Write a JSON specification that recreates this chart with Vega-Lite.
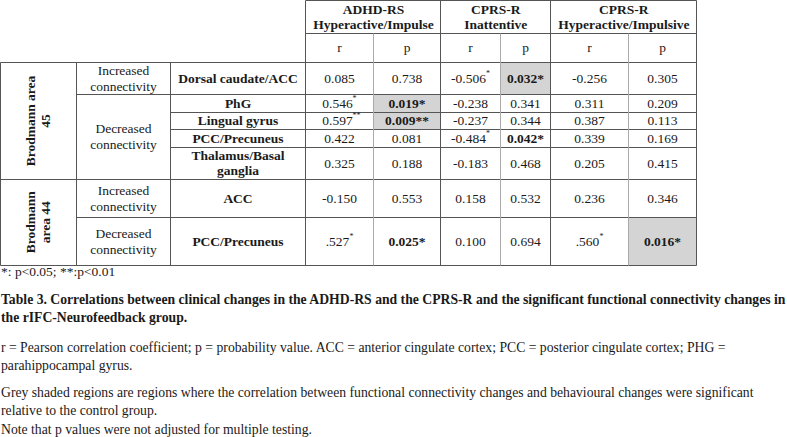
{
  "$schema": "https://vega.github.io/schema/vega-lite/v6.json",
  "width": 787,
  "height": 437,
  "autosize": "none",
  "padding": 0,
  "background": "white",
  "config": {
    "view": {"stroke": null},
    "text": {"font": "Liberation Serif", "fontSize": 13.5, "color": "#1a1a1a", "baseline": "middle", "align": "center", "lineBreak": "\n", "lineHeight": 16}
  },
  "datasets": {
    "grid": [
      {"x0": 3, "x1": 9, "y0": 0, "y1": 0, "inner": false},
      {"x0": 3, "x1": 9, "y0": 1, "y1": 1, "inner": false},
      {"x0": 0, "x1": 9, "y0": 2, "y1": 2, "inner": false},
      {"x0": 1, "x1": 9, "y0": 3, "y1": 3, "inner": false},
      {"x0": 2, "x1": 9, "y0": 4, "y1": 4, "inner": false},
      {"x0": 2, "x1": 9, "y0": 5, "y1": 5, "inner": false},
      {"x0": 2, "x1": 9, "y0": 6, "y1": 6, "inner": false},
      {"x0": 0, "x1": 9, "y0": 7, "y1": 7, "inner": false},
      {"x0": 1, "x1": 9, "y0": 8, "y1": 8, "inner": false},
      {"x0": 0, "x1": 9, "y0": 9, "y1": 9, "inner": false},
      {"x0": 0, "x1": 0, "y0": 2, "y1": 9, "inner": false},
      {"x0": 1, "x1": 1, "y0": 2, "y1": 9, "inner": false},
      {"x0": 2, "x1": 2, "y0": 2, "y1": 9, "inner": false},
      {"x0": 3, "x1": 3, "y0": 0, "y1": 9, "inner": false},
      {"x0": 4, "x1": 4, "y0": 1, "y1": 9, "inner": true},
      {"x0": 5, "x1": 5, "y0": 0, "y1": 9, "inner": false},
      {"x0": 6, "x1": 6, "y0": 1, "y1": 9, "inner": true},
      {"x0": 7, "x1": 7, "y0": 0, "y1": 9, "inner": false},
      {"x0": 8, "x1": 8, "y0": 1, "y1": 9, "inner": true},
      {"x0": 9, "x1": 9, "y0": 0, "y1": 9, "inner": false}
    ],
    "labels": [
      {"t": "ADHD-RS\nHyperactive/Impulse", "kind": "head", "xc": 4, "yc": 0.5},
      {"t": "CPRS-R\nInattentive", "kind": "head", "xc": 5.92, "yc": 0.5},
      {"t": "CPRS-R\nHyperactive/Impulsive", "kind": "head", "xc": 7.94, "yc": 0.5},
      {"t": "r", "kind": "sub", "xc": 3.5, "yc": 1.5},
      {"t": "p", "kind": "sub", "xc": 4.5, "yc": 1.5},
      {"t": "r", "kind": "sub", "xc": 5.5, "yc": 1.5},
      {"t": "p", "kind": "sub", "xc": 6.5, "yc": 1.5},
      {"t": "r", "kind": "sub", "xc": 7.5, "yc": 1.5},
      {"t": "p", "kind": "sub", "xc": 8.5, "yc": 1.5},
      {"t": "Brodmann area\n45", "kind": "rot", "xc": 0.5, "yc": 4.5},
      {"t": "Brodmann\narea 44", "kind": "rot", "xc": 0.5, "yc": 8.1},
      {"t": "Increased\nconnectivity", "kind": "conn", "xc": 1.5, "yc": 2.5},
      {"t": "Decreased\nconnectivity", "kind": "conn", "xc": 1.5, "yc": 5.42},
      {"t": "Increased\nconnectivity", "kind": "conn", "xc": 1.5, "yc": 7.5},
      {"t": "Decreased\nconnectivity", "kind": "conn", "xc": 1.5, "yc": 8.5},
      {"t": "Dorsal caudate/ACC", "kind": "region", "xc": 2.5, "yc": 2.5},
      {"t": "PhG", "kind": "region", "xc": 2.5, "yc": 3.5},
      {"t": "Lingual gyrus", "kind": "region", "xc": 2.5, "yc": 4.5},
      {"t": "PCC/Precuneus", "kind": "region", "xc": 2.5, "yc": 5.5},
      {"t": "Thalamus/Basal\nganglia", "kind": "region2", "xc": 2.5, "yc": 6.5},
      {"t": "ACC", "kind": "region", "xc": 2.5, "yc": 7.5},
      {"t": "PCC/Precuneus", "kind": "region", "xc": 2.5, "yc": 8.5}
    ],
    "cells": [
      {"v": "0.085", "sup": "", "x0": 3, "x1": 4, "y0": 2, "y1": 3, "xc": 3.5, "yc": 2.5, "shaded": false},
      {"v": "0.738", "sup": "", "x0": 4, "x1": 5, "y0": 2, "y1": 3, "xc": 4.5, "yc": 2.5, "shaded": false},
      {"v": "-0.506", "sup": "*", "x0": 5, "x1": 6, "y0": 2, "y1": 3, "xc": 5.5, "yc": 2.5, "shaded": false},
      {"v": "0.032*", "sup": "", "x0": 6, "x1": 7, "y0": 2, "y1": 3, "xc": 6.5, "yc": 2.5, "shaded": true},
      {"v": "-0.256", "sup": "", "x0": 7, "x1": 8, "y0": 2, "y1": 3, "xc": 7.5, "yc": 2.5, "shaded": false},
      {"v": "0.305", "sup": "", "x0": 8, "x1": 9, "y0": 2, "y1": 3, "xc": 8.5, "yc": 2.5, "shaded": false},
      {"v": "0.546", "sup": "*", "x0": 3, "x1": 4, "y0": 3, "y1": 4, "xc": 3.5, "yc": 3.5, "shaded": false},
      {"v": "0.019*", "sup": "", "x0": 4, "x1": 5, "y0": 3, "y1": 4, "xc": 4.5, "yc": 3.5, "shaded": true},
      {"v": "-0.238", "sup": "", "x0": 5, "x1": 6, "y0": 3, "y1": 4, "xc": 5.5, "yc": 3.5, "shaded": false},
      {"v": "0.341", "sup": "", "x0": 6, "x1": 7, "y0": 3, "y1": 4, "xc": 6.5, "yc": 3.5, "shaded": false},
      {"v": "0.311", "sup": "", "x0": 7, "x1": 8, "y0": 3, "y1": 4, "xc": 7.5, "yc": 3.5, "shaded": false},
      {"v": "0.209", "sup": "", "x0": 8, "x1": 9, "y0": 3, "y1": 4, "xc": 8.5, "yc": 3.5, "shaded": false},
      {"v": "0.597", "sup": "**", "x0": 3, "x1": 4, "y0": 4, "y1": 5, "xc": 3.5, "yc": 4.5, "shaded": false},
      {"v": "0.009**", "sup": "", "x0": 4, "x1": 5, "y0": 4, "y1": 5, "xc": 4.5, "yc": 4.5, "shaded": true},
      {"v": "-0.237", "sup": "", "x0": 5, "x1": 6, "y0": 4, "y1": 5, "xc": 5.5, "yc": 4.5, "shaded": false},
      {"v": "0.344", "sup": "", "x0": 6, "x1": 7, "y0": 4, "y1": 5, "xc": 6.5, "yc": 4.5, "shaded": false},
      {"v": "0.387", "sup": "", "x0": 7, "x1": 8, "y0": 4, "y1": 5, "xc": 7.5, "yc": 4.5, "shaded": false},
      {"v": "0.113", "sup": "", "x0": 8, "x1": 9, "y0": 4, "y1": 5, "xc": 8.5, "yc": 4.5, "shaded": false},
      {"v": "0.422", "sup": "", "x0": 3, "x1": 4, "y0": 5, "y1": 6, "xc": 3.5, "yc": 5.5, "shaded": false},
      {"v": "0.081", "sup": "", "x0": 4, "x1": 5, "y0": 5, "y1": 6, "xc": 4.5, "yc": 5.5, "shaded": false},
      {"v": "-0.484", "sup": "*", "x0": 5, "x1": 6, "y0": 5, "y1": 6, "xc": 5.5, "yc": 5.5, "shaded": false},
      {"v": "0.042*", "sup": "", "x0": 6, "x1": 7, "y0": 5, "y1": 6, "xc": 6.5, "yc": 5.5, "shaded": false},
      {"v": "0.339", "sup": "", "x0": 7, "x1": 8, "y0": 5, "y1": 6, "xc": 7.5, "yc": 5.5, "shaded": false},
      {"v": "0.169", "sup": "", "x0": 8, "x1": 9, "y0": 5, "y1": 6, "xc": 8.5, "yc": 5.5, "shaded": false},
      {"v": "0.325", "sup": "", "x0": 3, "x1": 4, "y0": 6, "y1": 7, "xc": 3.5, "yc": 6.5, "shaded": false},
      {"v": "0.188", "sup": "", "x0": 4, "x1": 5, "y0": 6, "y1": 7, "xc": 4.5, "yc": 6.5, "shaded": false},
      {"v": "-0.183", "sup": "", "x0": 5, "x1": 6, "y0": 6, "y1": 7, "xc": 5.5, "yc": 6.5, "shaded": false},
      {"v": "0.468", "sup": "", "x0": 6, "x1": 7, "y0": 6, "y1": 7, "xc": 6.5, "yc": 6.5, "shaded": false},
      {"v": "0.205", "sup": "", "x0": 7, "x1": 8, "y0": 6, "y1": 7, "xc": 7.5, "yc": 6.5, "shaded": false},
      {"v": "0.415", "sup": "", "x0": 8, "x1": 9, "y0": 6, "y1": 7, "xc": 8.5, "yc": 6.5, "shaded": false},
      {"v": "-0.150", "sup": "", "x0": 3, "x1": 4, "y0": 7, "y1": 8, "xc": 3.5, "yc": 7.5, "shaded": false},
      {"v": "0.553", "sup": "", "x0": 4, "x1": 5, "y0": 7, "y1": 8, "xc": 4.5, "yc": 7.5, "shaded": false},
      {"v": "0.158", "sup": "", "x0": 5, "x1": 6, "y0": 7, "y1": 8, "xc": 5.5, "yc": 7.5, "shaded": false},
      {"v": "0.532", "sup": "", "x0": 6, "x1": 7, "y0": 7, "y1": 8, "xc": 6.5, "yc": 7.5, "shaded": false},
      {"v": "0.236", "sup": "", "x0": 7, "x1": 8, "y0": 7, "y1": 8, "xc": 7.5, "yc": 7.5, "shaded": false},
      {"v": "0.346", "sup": "", "x0": 8, "x1": 9, "y0": 7, "y1": 8, "xc": 8.5, "yc": 7.5, "shaded": false},
      {"v": ".527", "sup": "*", "x0": 3, "x1": 4, "y0": 8, "y1": 9, "xc": 3.5, "yc": 8.5, "shaded": false},
      {"v": "0.025*", "sup": "", "x0": 4, "x1": 5, "y0": 8, "y1": 9, "xc": 4.5, "yc": 8.5, "shaded": false},
      {"v": "0.100", "sup": "", "x0": 5, "x1": 6, "y0": 8, "y1": 9, "xc": 5.5, "yc": 8.5, "shaded": false},
      {"v": "0.694", "sup": "", "x0": 6, "x1": 7, "y0": 8, "y1": 9, "xc": 6.5, "yc": 8.5, "shaded": false},
      {"v": ".560", "sup": "*", "x0": 7, "x1": 8, "y0": 8, "y1": 9, "xc": 7.5, "yc": 8.5, "shaded": false},
      {"v": "0.016*", "sup": "", "x0": 8, "x1": 9, "y0": 8, "y1": 9, "xc": 8.5, "yc": 8.5, "shaded": true}
    ],
    "notes": [
      {"t": "*: p<0.05; **:p<0.01", "kind": "foot", "line": 10},
      {"t": "Table 3. Correlations between clinical changes in the ADHD-RS and the CPRS-R and the significant functional connectivity changes in", "kind": "cap", "line": 11},
      {"t": "the rIFC-Neurofeedback group.", "kind": "cap", "line": 12},
      {"t": "r = Pearson correlation coefficient; p = probability value. ACC = anterior cingulate cortex; PCC = posterior cingulate cortex; PHG =", "kind": "para", "line": 13},
      {"t": "parahippocampal gyrus.", "kind": "para", "line": 14},
      {"t": "Grey shaded regions are regions where the correlation between functional connectivity changes and behavioural changes were significant", "kind": "para", "line": 15},
      {"t": "relative to the control group.", "kind": "para", "line": 16},
      {"t": "Note that p values were not adjusted for multiple testing.", "kind": "para", "line": 17}
    ]
  },
  "layer": [
    {
      "data": {"name": "cells"},
      "transform": [{"filter": "datum.shaded"}],
      "mark": {"type": "rect", "color": "#d4d4d4"},
      "encoding": {
        "x": {"field": "x0", "type": "quantitative", "axis": null, "scale": {"domain": [0,1,2,3,4,5,6,7,8,9,10], "range": [0.5,76.5,170.5,305.5,373.5,440.5,500.5,550.5,628.5,696.5,787], "nice": false, "zero": false}},
        "x2": {"field": "x1"},
        "y": {"field": "y0", "type": "quantitative", "axis": null, "scale": {"domain": [0,1,2,3,4,5,6,7,8,9,10,11,12,13,14,15,16,17], "range": [0.5,33.5,62.5,94.5,112.5,129.5,147.5,179.5,217.5,265.5,272,300,318,348,366,393,411,430], "nice": false, "zero": false}},
        "y2": {"field": "y1"}
      }
    },
    {
      "data": {"name": "grid"},
      "transform": [{"filter": "!datum.inner"}],
      "mark": {"type": "rule", "color": "#555555", "strokeWidth": 1},
      "encoding": {
        "x": {"field": "x0", "type": "quantitative"},
        "x2": {"field": "x1"},
        "y": {"field": "y0", "type": "quantitative"},
        "y2": {"field": "y1"}
      }
    },
    {
      "data": {"name": "grid"},
      "transform": [{"filter": "datum.inner"}],
      "mark": {"type": "rule", "color": "#aaaaaa", "strokeWidth": 1},
      "encoding": {
        "x": {"field": "x0", "type": "quantitative"},
        "x2": {"field": "x1"},
        "y": {"field": "y0", "type": "quantitative"},
        "y2": {"field": "y1"}
      }
    },
    {
      "data": {"name": "labels"},
      "transform": [{"filter": "datum.kind == 'region'"}],
      "mark": {"type": "text", "fontWeight": "bold"},
      "encoding": {
        "x": {"field": "xc", "type": "quantitative"},
        "y": {"field": "yc", "type": "quantitative"},
        "text": {"field": "t"}
      }
    },
    {
      "data": {"name": "labels"},
      "transform": [{"filter": "datum.kind == 'head' || datum.kind == 'region2'"}],
      "mark": {"type": "text", "fontWeight": "bold", "lineHeight": 15, "dy": -7.5},
      "encoding": {
        "x": {"field": "xc", "type": "quantitative"},
        "y": {"field": "yc", "type": "quantitative"},
        "text": {"field": "t"}
      }
    },
    {
      "data": {"name": "labels"},
      "transform": [{"filter": "datum.kind == 'sub'"}],
      "mark": {"type": "text"},
      "encoding": {
        "x": {"field": "xc", "type": "quantitative"},
        "y": {"field": "yc", "type": "quantitative"},
        "text": {"field": "t"}
      }
    },
    {
      "data": {"name": "labels"},
      "transform": [{"filter": "datum.kind == 'conn'"}],
      "mark": {"type": "text", "dy": -8},
      "encoding": {
        "x": {"field": "xc", "type": "quantitative"},
        "y": {"field": "yc", "type": "quantitative"},
        "text": {"field": "t"}
      }
    },
    {
      "data": {"name": "labels"},
      "transform": [{"filter": "datum.kind == 'rot'"}],
      "mark": {"type": "text", "fontWeight": "bold", "angle": 270, "lineHeight": 15, "dy": -7.5},
      "encoding": {
        "x": {"field": "xc", "type": "quantitative"},
        "y": {"field": "yc", "type": "quantitative"},
        "text": {"field": "t"}
      }
    },
    {
      "data": {"name": "cells"},
      "transform": [{"filter": "datum.sup == '' && indexof(datum.v, '*') < 0"}],
      "mark": {"type": "text"},
      "encoding": {
        "x": {"field": "xc", "type": "quantitative"},
        "y": {"field": "yc", "type": "quantitative"},
        "text": {"field": "v"}
      }
    },
    {
      "data": {"name": "cells"},
      "transform": [{"filter": "indexof(datum.v, '*') >= 0"}],
      "mark": {"type": "text", "fontWeight": "bold"},
      "encoding": {
        "x": {"field": "xc", "type": "quantitative"},
        "y": {"field": "yc", "type": "quantitative"},
        "text": {"field": "v"}
      }
    },
    {
      "data": {"name": "cells"},
      "transform": [{"filter": "datum.sup != ''"}],
      "mark": {"type": "text", "dx": -2},
      "encoding": {
        "x": {"field": "xc", "type": "quantitative"},
        "y": {"field": "yc", "type": "quantitative"},
        "text": {"field": "v"}
      }
    },
    {
      "data": {"name": "cells"},
      "transform": [{"filter": "datum.sup != '' && indexof(datum.v, '-') == 0"}],
      "mark": {"type": "text", "fontSize": 8, "align": "left", "dx": 15.5, "dy": -5},
      "encoding": {
        "x": {"field": "xc", "type": "quantitative"},
        "y": {"field": "yc", "type": "quantitative"},
        "text": {"field": "sup"}
      }
    },
    {
      "data": {"name": "cells"},
      "transform": [{"filter": "datum.sup != '' && indexof(datum.v, '.') == 0"}],
      "mark": {"type": "text", "fontSize": 8, "align": "left", "dx": 10, "dy": -5},
      "encoding": {
        "x": {"field": "xc", "type": "quantitative"},
        "y": {"field": "yc", "type": "quantitative"},
        "text": {"field": "sup"}
      }
    },
    {
      "data": {"name": "cells"},
      "transform": [{"filter": "datum.sup != '' && indexof(datum.v, '0') == 0"}],
      "mark": {"type": "text", "fontSize": 8, "align": "left", "dx": 13, "dy": -5},
      "encoding": {
        "x": {"field": "xc", "type": "quantitative"},
        "y": {"field": "yc", "type": "quantitative"},
        "text": {"field": "sup"}
      }
    },
    {
      "data": {"name": "notes"},
      "transform": [{"filter": "datum.kind == 'foot'"}],
      "mark": {"type": "text", "align": "left", "fontSize": 13.5, "x": 1},
      "encoding": {
        "y": {"field": "line", "type": "quantitative"},
        "text": {"field": "t"}
      }
    },
    {
      "data": {"name": "notes"},
      "transform": [{"filter": "datum.kind == 'cap'"}],
      "mark": {"type": "text", "align": "left", "fontSize": 13.7, "fontWeight": "bold", "x": 1},
      "encoding": {
        "y": {"field": "line", "type": "quantitative"},
        "text": {"field": "t"}
      }
    },
    {
      "data": {"name": "notes"},
      "transform": [{"filter": "datum.kind == 'para'"}],
      "mark": {"type": "text", "align": "left", "fontSize": 13.7, "x": 1},
      "encoding": {
        "y": {"field": "line", "type": "quantitative"},
        "text": {"field": "t"}
      }
    }
  ]
}
